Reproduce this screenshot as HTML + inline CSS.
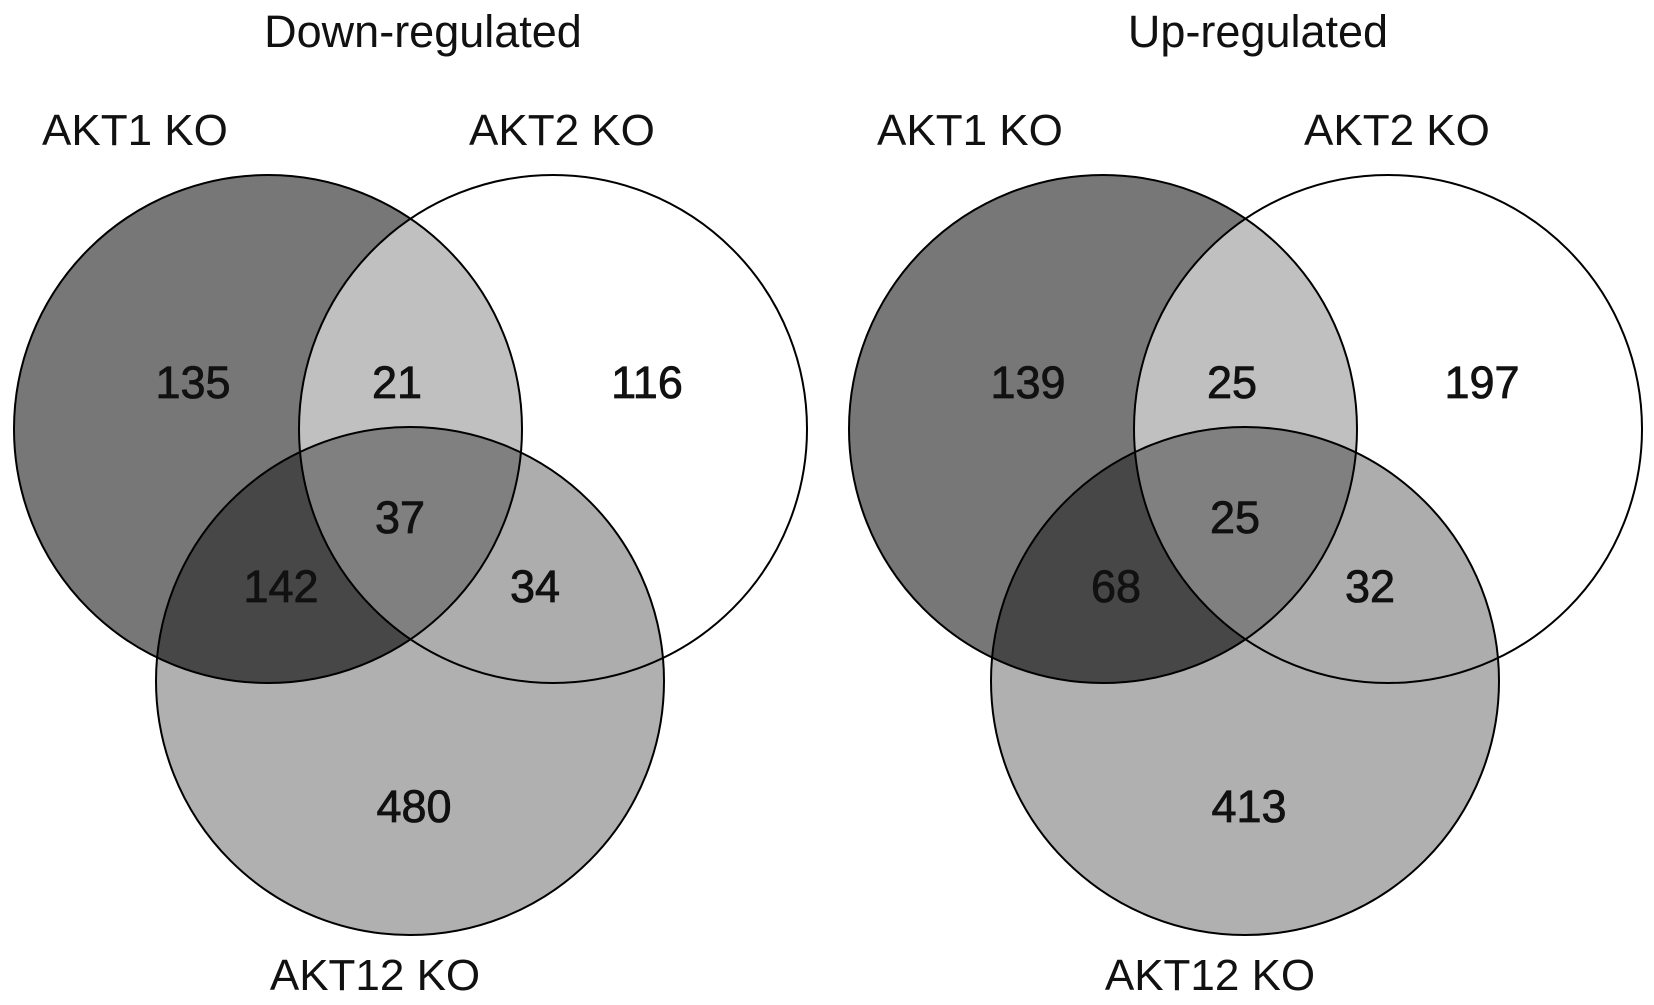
<!DOCTYPE html>
<html><head><meta charset="utf-8"><style>
html,body{margin:0;padding:0;background:#fff;}
svg{display:block;}
text{font-family:"Liberation Sans",Arial,sans-serif;fill:#111;}
</style></head><body>
<svg id="chart" width="1654" height="1005" viewBox="0 0 1654 1005" xmlns="http://www.w3.org/2000/svg"></svg>
<script>
const panelTitles = ["Down-regulated", "Up-regulated"];
const setNames = ["AKT1 KO", "AKT2 KO", "AKT12 KO"];
const regionKeys = ["A", "AB", "B", "ABC", "AC", "BC", "C"];
const downCounts = [135, 21, 116, 37, 142, 34, 480];
const upCounts = [139, 25, 197, 25, 68, 32, 413];

const NS = "http://www.w3.org/2000/svg";
const svg = document.getElementById("chart");
const R = 254;
const panelOffsets = [0, 835];
const circ = {A:[268,429], B:[553,429], C:[410,681]};
const labelPos = {A:[42,145,"start"], B:[469,145,"start"], C:[375,990,"middle"]};
const regionPos = {A:[193,398], AB:[397,398], B:[647,398], ABC:[400,533], AC:[281,602], BC:[535,602], C:[414,822]};
const regionFill = {A:"#777777", B:"#ffffff", C:"#b0b0b0", AB:"#c0c0c0", AC:"#474747", BC:"#adadad", ABC:"#808080"};
function mk(tag, attrs){const e=document.createElementNS(NS,tag);for(const k in attrs)e.setAttribute(k,attrs[k]);return e;}

const defs = mk("defs",{});
svg.appendChild(defs);

[downCounts, upCounts].forEach((counts, p) => {
  const ox = panelOffsets[p];
  const g = mk("g",{});
  
  
  svg.appendChild(g);
  ["A","B","C"].forEach(k=>{
    const cp = mk("clipPath",{id:"clip"+k+p});
    cp.appendChild(mk("circle",{cx:circ[k][0]+ox, cy:circ[k][1], r:R}));
    defs.appendChild(cp);
  });
  // base fills
  ["A","B","C"].forEach(k=>{
    const c = mk("circle",{cx:circ[k][0]+ox, cy:circ[k][1], r:R, fill:regionFill[k]});
    
    
    g.appendChild(c);
  });
  // pairwise overlaps
  [["A","B"],["A","C"],["B","C"]].forEach(([a,b])=>{
    const gg = mk("g",{"clip-path":"url(#clip"+a+p+")"});
    const c = mk("circle",{cx:circ[b][0]+ox, cy:circ[b][1], r:R, fill:regionFill[a+b]});
    
    
    gg.appendChild(c); g.appendChild(gg);
  });
  const g1 = mk("g",{"clip-path":"url(#clipA"+p+")"});
  const g2 = mk("g",{"clip-path":"url(#clipB"+p+")"});
  const c3 = mk("circle",{cx:circ.C[0]+ox, cy:circ.C[1], r:R, fill:regionFill.ABC});
  
  
  g2.appendChild(c3); g1.appendChild(g2); g.appendChild(g1);
  // outlines
  ["A","B","C"].forEach(k=>{
    const c = mk("circle",{cx:circ[k][0]+ox, cy:circ[k][1], r:R, fill:"none", stroke:"#000", "stroke-width":2});
    
    
    g.appendChild(c);
  });
  // title
  const t = mk("text",{x:423+ox, y:47, "text-anchor":"middle", "font-size":45});
  t.textContent = panelTitles[p];
  
  
  g.appendChild(t);
  // set labels
  ["A","B","C"].forEach((k,i)=>{
    const lp = labelPos[k];
    const l = mk("text",{x:lp[0]+ox, y:lp[1], "text-anchor":lp[2], "font-size":44});
    l.textContent = setNames[i];
    
    
    g.appendChild(l);
  });
  // counts
  regionKeys.forEach((k,i)=>{
    const rp = regionPos[k];
    const n = mk("text",{x:rp[0]+ox, y:rp[1], "text-anchor":"middle", "font-size":45, stroke:"#111", "stroke-width":0.8});
    n.textContent = counts[i];
    
    
    g.appendChild(n);
  });
});
</script>
</body></html>
